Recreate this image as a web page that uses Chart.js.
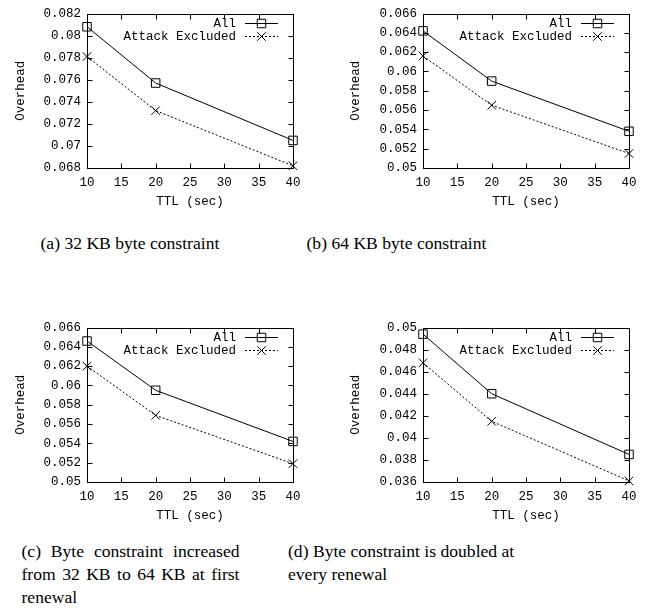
<!DOCTYPE html>
<html><head><meta charset="utf-8">
<script src="https://cdn.jsdelivr.net/npm/chart.js@4/dist/chart.umd.min.js"></script>
<style>
html,body{margin:0;padding:0;background:#fff;}
body{width:654px;height:616px;position:relative;overflow:hidden;}
canvas{position:absolute;display:block;}
.cap{position:absolute;font-family:"Liberation Serif","Times New Roman",serif;font-size:17.6px;line-height:23px;color:#000;white-space:nowrap;}
.j{text-align:justify;text-align-last:justify;}
</style></head><body>
<canvas id="ca" width="330" height="215" style="left:0;top:0"></canvas>
<canvas id="cb" width="324" height="215" style="left:330px;top:0"></canvas>
<canvas id="cc" width="330" height="215" style="left:0;top:314px"></canvas>
<canvas id="cd" width="324" height="215" style="left:330px;top:314px"></canvas>

<div class="cap" style="left:40.5px;top:232px">(a) 32 KB byte constraint</div>
<div class="cap" style="left:306.5px;top:232px">(b) 64 KB byte constraint</div>
<div class="cap" style="left:21.5px;top:540px;width:218px">
  <div class="j">(c) Byte constraint increased</div>
  <div class="j">from 32 KB to 64 KB at first</div>
  <div>renewal</div>
</div>
<div class="cap" style="left:288px;top:540px;width:220px">
  <div class="j">(d) Byte constraint is doubled at</div>
  <div>every renewal</div>
</div>

<script>
const ttl = [10, 20, 40];
const xTicks = [10, 15, 20, 25, 30, 35, 40];
const seriesNames = ['All', 'Attack Excluded'];
const xTitle = 'TTL (sec)';
const yTitle = 'Overhead';

const allA = [0.0808, 0.0757, 0.0705];
const attA = [0.0781, 0.0732, 0.0682];
const allB = [0.0642, 0.0590, 0.0538];
const attB = [0.0616, 0.0565, 0.0515];
const allC = [0.0646, 0.0595, 0.0542];
const attC = [0.0620, 0.0569, 0.0519];
const allD = [0.0494, 0.0440, 0.0385];
const attD = [0.0468, 0.0415, 0.0361];

const yTicksA = [0.068, 0.07, 0.072, 0.074, 0.076, 0.078, 0.08, 0.082];
const yTicksB = [0.05, 0.052, 0.054, 0.056, 0.058, 0.06, 0.062, 0.064, 0.066];
const yTicksC = [0.05, 0.052, 0.054, 0.056, 0.058, 0.06, 0.062, 0.064, 0.066];
const yTicksD = [0.036, 0.038, 0.04, 0.042, 0.044, 0.046, 0.048, 0.05];

const MONO = '"Liberation Mono", "DejaVu Sans Mono", monospace';
const FS = 12.5;

function drawMarker(ctx, style, r, x, y) {
  ctx.save();
  ctx.strokeStyle = '#000'; ctx.lineWidth = 1; ctx.setLineDash([]);
  ctx.beginPath();
  const s = Math.SQRT1_2 * r;
  if (style === 'rect') {
    ctx.rect(x - s, y - s, 2 * s, 2 * s);
  } else {
    ctx.moveTo(x - s, y - s); ctx.lineTo(x + s, y + s);
    ctx.moveTo(x + s, y - s); ctx.lineTo(x - s, y + s);
  }
  ctx.stroke();
  ctx.restore();
}

const framePlugin = {
  id: 'gnuframe',
  afterDraw(chart) {
    const {ctx, chartArea: a, scales} = chart;
    ctx.save();
    ctx.strokeStyle = '#000'; ctx.lineWidth = 1; ctx.setLineDash([]);
    const L = Math.round(a.left) + 0.5, R = Math.round(a.right) + 0.5;
    const T = Math.round(a.top) + 0.5, B = Math.round(a.bottom) + 0.5;
    ctx.strokeRect(L, T, R - L, B - T);
    const tl = 5;
    ctx.beginPath();
    scales.x.ticks.forEach(t => {
      const px = Math.round(scales.x.getPixelForValue(t.value)) + 0.5;
      ctx.moveTo(px, B); ctx.lineTo(px, B - tl);
      ctx.moveTo(px, T); ctx.lineTo(px, T + tl);
    });
    scales.y.ticks.forEach(t => {
      const py = Math.round(scales.y.getPixelForValue(t.value)) + 0.5;
      ctx.moveTo(L, py); ctx.lineTo(L + tl, py);
      ctx.moveTo(R, py); ctx.lineTo(R - tl, py);
    });
    ctx.stroke();
    // legend
    ctx.font = FS + 'px ' + MONO;
    ctx.fillStyle = '#000';
    ctx.textAlign = 'right';
    ctx.textBaseline = 'middle';
    chart.data.datasets.forEach((ds, i) => {
      const y = Math.round(a.top + 9.5 + i * 13.3) + 0.5;
      const x2 = a.right - 15, x1 = x2 - 33;
      ctx.fillText(ds.label, x1 - 9, y);
      ctx.save();
      ctx.beginPath();
      ctx.setLineDash(ds.borderDash || []);
      ctx.lineWidth = ds.borderWidth;
      ctx.strokeStyle = '#000';
      ctx.moveTo(x1, y); ctx.lineTo(x2, y);
      ctx.stroke();
      ctx.restore();
      drawMarker(ctx, ds.pointStyle, ds.pointRadius, (x1 + x2) / 2, y);
    });
    ctx.restore();
  }
};

function fmt(v) { return String(parseFloat(v.toFixed(4))); }

function makeChart(id, all, att, yTicks, g) {
  const ds = (label, vals, style, dash) => ({
    label,
    data: ttl.map((x, i) => ({x, y: vals[i]})),
    borderColor: '#000',
    backgroundColor: 'rgba(0,0,0,0)',
    borderWidth: 1,
    borderDash: dash,
    pointStyle: style,
    pointRadius: 6,
    pointBorderWidth: 1,
    pointBorderColor: '#000',
    pointBackgroundColor: 'rgba(0,0,0,0)',
    tension: 0,
    fill: false,
    clip: false
  });
  return new Chart(document.getElementById(id), {
    type: 'line',
    data: {
      datasets: [
        ds(seriesNames[0], all, 'rect', []),
        ds(seriesNames[1], att, 'crossRot', [2, 2])
      ]
    },
    options: {
      responsive: false,
      animation: false,
      devicePixelRatio: 1,
      layout: {padding: {left: 0, top: 10, right: g.rightPad, bottom: 0}},
      plugins: {legend: {display: false}, tooltip: {enabled: false}},
      scales: {
        x: {
          type: 'linear',
          min: xTicks[0], max: xTicks[xTicks.length - 1],
          afterBuildTicks: s => { s.ticks = xTicks.map(v => ({value: v})); },
          afterFit: s => { s.height = 47; },
          grid: {display: false, drawTicks: false},
          border: {display: false},
          ticks: {color: '#000', font: {family: MONO, size: FS}, padding: 7, maxRotation: 0, autoSkip: false,
                  callback: v => String(v)},
          title: {display: true, text: xTitle, color: '#000', font: {family: MONO, size: FS}, padding: {top: 0, bottom: 5.5}}
        },
        y: {
          type: 'linear',
          min: yTicks[0], max: yTicks[yTicks.length - 1],
          afterBuildTicks: s => { s.ticks = yTicks.map(v => ({value: v})); },
          afterFit: s => { s.width = g.yWidth; },
          grid: {display: false, drawTicks: false},
          border: {display: false},
          ticks: {color: '#000', font: {family: MONO, size: FS}, padding: 6, autoSkip: false,
                  callback: v => fmt(v)},
          title: {display: true, text: yTitle, color: '#000', font: {family: MONO, size: FS}, padding: {top: g.yTitlePad, bottom: 0}}
        }
      }
    },
    plugins: [framePlugin]
  });
}

const gLeft = {yWidth: 87, rightPad: 37, yTitlePad: 13.5};
const gRight = {yWidth: 93, rightPad: 25, yTitlePad: 18.5};
makeChart('ca', allA, attA, yTicksA, gLeft);
makeChart('cb', allB, attB, yTicksB, gRight);
makeChart('cc', allC, attC, yTicksC, gLeft);
makeChart('cd', allD, attD, yTicksD, gRight);
</script>
</body></html>
